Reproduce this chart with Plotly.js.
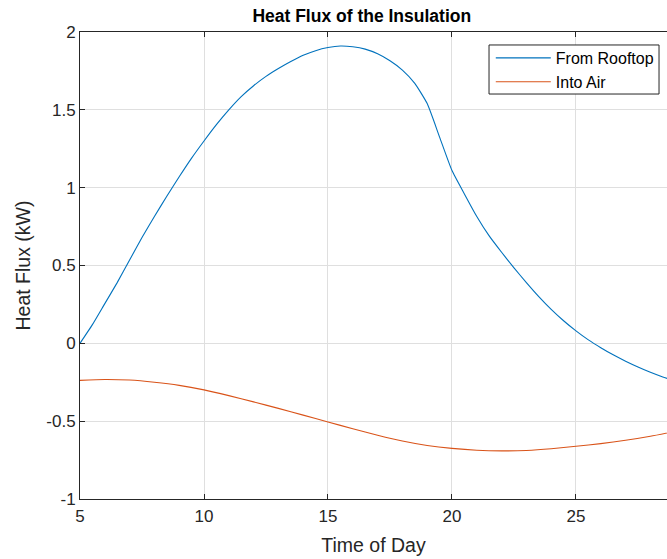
<!DOCTYPE html>
<html>
<head>
<meta charset="utf-8">
<script src="https://cdn.plot.ly/plotly-3.0.1.min.js"></script>
<style>
html, body { margin: 0; padding: 0; background: #fff; }
#chart { width: 667px; height: 559px; }
</style>
</head>
<body>
<div id="chart"></div>
<script>
// Time of day (hours)
const roofTime = [5, 5.5, 6, 6.5, 7, 7.5, 8, 8.5, 9, 9.5, 10, 10.5, 11, 11.5, 12, 12.5, 13, 13.5, 14, 14.5, 15, 15.5, 16, 16.5, 17, 17.5, 18, 18.5, 19, 19.5, 20, 20.5, 21, 21.5, 22, 22.5, 23, 23.5, 24, 24.5, 25, 25.5, 26, 26.5, 27, 27.5, 28, 28.5, 29];
// Heat flux from rooftop (kW)
const roofFlux = [0.00, 0.12, 0.255, 0.39, 0.535, 0.68, 0.815, 0.945, 1.07, 1.19, 1.30, 1.405, 1.50, 1.585, 1.655, 1.715, 1.765, 1.81, 1.85, 1.88, 1.90, 1.91, 1.905, 1.89, 1.86, 1.815, 1.755, 1.67, 1.54, 1.325, 1.11, 0.96, 0.815, 0.69, 0.585, 0.485, 0.39, 0.30, 0.218, 0.145, 0.08, 0.022, -0.028, -0.074, -0.115, -0.152, -0.186, -0.216, -0.243];

const airTime = [5, 6, 7, 8, 9, 10, 11, 12, 13, 14, 15, 16, 17, 18, 19, 20, 21, 22, 23, 24, 25, 26, 27, 28, 29];
// Heat flux into air (kW)
const airFlux = [-0.238, -0.232, -0.236, -0.250, -0.270, -0.299, -0.336, -0.376, -0.418, -0.461, -0.505, -0.549, -0.590, -0.627, -0.656, -0.675, -0.687, -0.691, -0.688, -0.677, -0.661, -0.644, -0.623, -0.597, -0.565];

const seriesNames = ['From Rooftop', 'Into Air'];
const xTicks = [5, 10, 15, 20, 25];
const yTicks = [-1, -0.5, 0, 0.5, 1, 1.5, 2];
const yTickText = ['-1', '-0.5', '0', '0.5', '1', '1.5', '2'];

const FONT = 'Liberation Sans, Arial, Helvetica, sans-serif';
const AX = '#262626';

const traces = [
  { x: roofTime, y: roofFlux, name: seriesNames[0], mode: 'lines',
    line: { color: '#0072BD', width: 1.1, shape: 'spline', smoothing: 0.5 } },
  { x: airTime, y: airFlux, name: seriesNames[1], mode: 'lines',
    line: { color: '#D95319', width: 1.1, shape: 'spline', smoothing: 0.6 } }
];

const layout = {
  width: 667, height: 559,
  margin: { l: 80, r: 0, t: 32, b: 60, pad: 0 },
  paper_bgcolor: '#fff', plot_bgcolor: '#fff',
  font: { family: FONT, color: AX, size: 17 },
  title: { text: '<b>Heat Flux of the Insulation</b>', font: { family: FONT, size: 17.5, color: '#000' },
           x: 0.48, xref: 'paper', xanchor: 'center', y: 1 - 16 / 559, yref: 'container', yanchor: 'middle' },
  showlegend: true,
  legend: { x: 0.986, xanchor: 'right', y: 0.9807, yanchor: 'top', bgcolor: 'rgba(0,0,0,0)',
            borderwidth: 0, font: { family: FONT, size: 16, color: '#000' },
            itemwidth: 55, tracegroupgap: 0 },
  shapes: [
    { type: 'rect', xref: 'paper', yref: 'paper', x0: 0.6968, x1: 0.9864, y0: 0.8672, y1: 0.9722,
      line: { color: AX, width: 1 }, fillcolor: '#fff', layer: 'above' }
  ],
  xaxis: {
    range: [5, 28.67], tickvals: xTicks, ticktext: xTicks.map(String),
    showgrid: true, gridcolor: '#dfdfdf', gridwidth: 1, zeroline: false,
    showline: true, linecolor: AX, linewidth: 1, mirror: 'ticks',
    ticks: 'inside', ticklen: 5, tickcolor: AX, tickfont: { size: 17, color: AX },
    ticklabelstandoff: 2,
    title: { text: 'Time of Day', font: { size: 19.5, color: AX }, standoff: 12 }
  },
  yaxis: {
    range: [-1, 2], tickvals: yTicks, ticktext: yTickText,
    showgrid: true, gridcolor: '#dfdfdf', gridwidth: 1, zeroline: false,
    showline: true, linecolor: AX, linewidth: 1, mirror: false,
    ticks: 'inside', ticklen: 5, tickcolor: AX, tickfont: { size: 17, color: AX },
    title: { text: 'Heat Flux (kW)', font: { size: 19.5, color: AX }, standoff: 10 }
  }
};

Plotly.newPlot('chart', traces, layout, { displayModeBar: false, staticPlot: true });
</script>
</body>
</html>
